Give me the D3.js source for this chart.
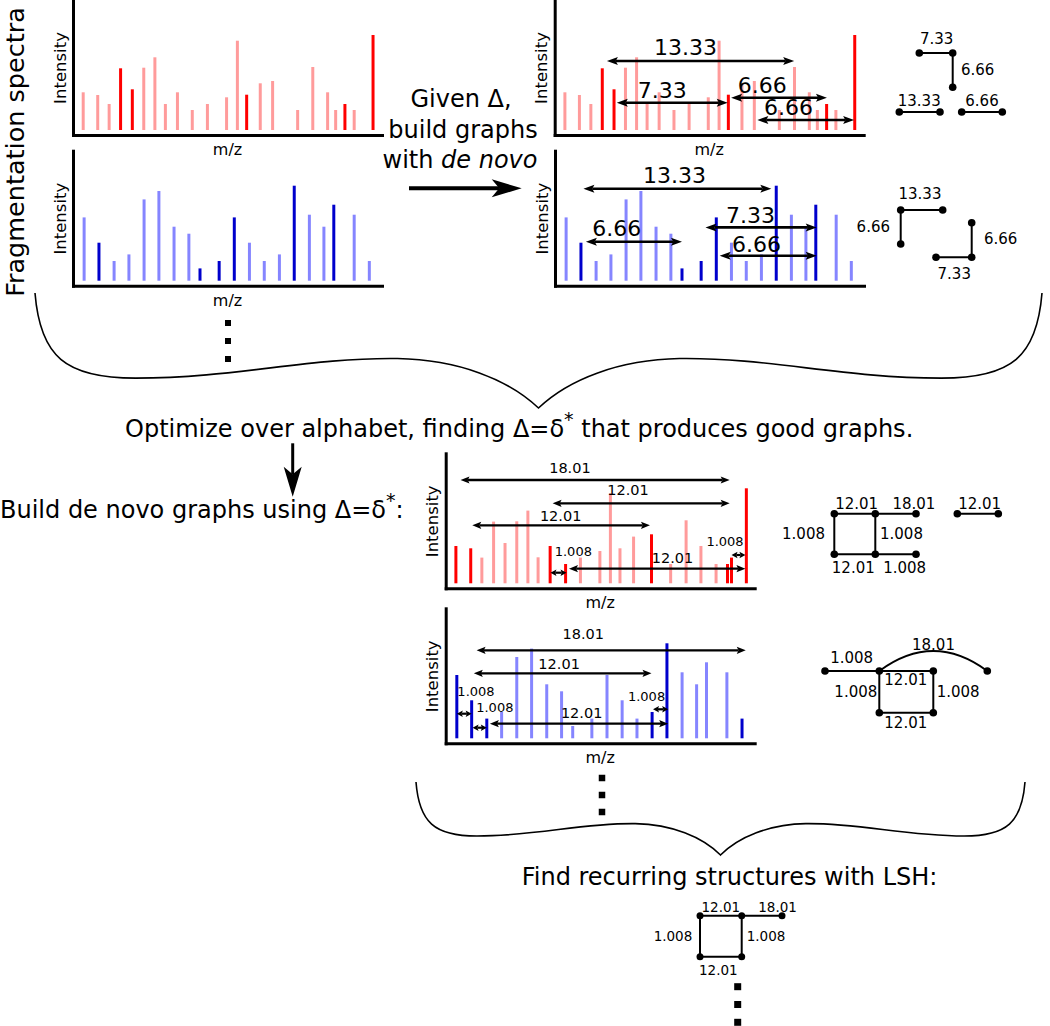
<!DOCTYPE html>
<html><head><meta charset="utf-8">
<script src="https://cdn.jsdelivr.net/npm/d3@7"></script>
<style>body{margin:0;background:#fff;} svg{display:block;font-family:"DejaVu Sans",sans-serif;}</style>
</head><body><svg id="c" width="1050" height="1026"></svg>
<script>
// ---------- DATA ----------
// spectrum 1 (red): m/z positions (0-100), intensities, highlighted peaks
const redMz   = [3.3, 8.0, 11.7, 15.4, 19.2, 22.9, 26.5, 29.9, 33.8, 38.6, 43.5, 49.7, 53.2, 56.2, 60.6, 64.6, 72.7, 77.6, 82.4, 85.0, 88.0, 91.0, 97.1];
const redInt  = [37.7, 35, 26, 61.7, 40.7, 62.3, 72.7, 26, 37.7, 20, 26, 32.7, 89.3, 35.3, 46.7, 49, 20, 63, 37.7, 20, 26, 20, 95];
const redKey  = [0,0,0,1,1,0,0,0,0,0,0,0,0,1,0,0,0,0,0,0,1,0,1];
// spectrum 2 (blue)
const blueMz  = [3.6, 8.4, 13.3, 18.1, 23.0, 27.8, 32.7, 37.5, 41.1, 47.3, 52.2, 57.1, 61.9, 66.8, 71.6, 76.5, 81.2, 84.4, 91.0, 95.9];
const blueInt = [63.3, 38, 19.7, 26.3, 81.3, 89.7, 54, 47, 12.3, 19.7, 63.3, 38, 19.7, 26.3, 95, 66, 54, 76, 66, 19.7];
const blueKey = [0,1,0,0,0,0,0,0,1,1,1,0,0,0,1,0,0,1,0,0];
// optimized red spectrum
const red2Mz  = [3.3, 8.1, 11.7, 15.5, 19.2, 23.0, 26.6, 29.9, 33.8, 38.8, 43.6, 49.9, 53.3, 56.4, 60.8, 66.6, 72.8, 77.8, 82.6, 87.5, 91.2, 92.5, 97.3];
const red2Int = [37.3, 35, 25.7, 61.7, 40.3, 62, 72.7, 26, 37.3, 19.3, 25.7, 32.3, 90, 35, 46.7, 49, 19.3, 63, 37.3, 19.3, 19.3, 25.7, 95];
const red2Key = [1,1,0,0,0,0,0,0,1,1,0,0,0,0,0,1,0,0,0,0,1,1,1];
// optimized blue spectrum (same peaks, other highlights)
const blue2Key = [1,1,1,0,0,0,0,0,0,0,0,0,0,1,1,0,0,0,0,1];

// mass-difference arrows: [label, from m/z, to m/z, level]
const annRedArrows  = [["13.33",16.9,77.5,69],["7.33",20.1,56.0,27.3],["6.66",57.1,88.1,32.3],["6.66",65.6,96.9,10]];
const annBlueArrows = [["13.33",9.2,70.0,92],["6.66",10.0,41.1,39],["7.33",48.7,84.7,53.3],["6.66",53.3,84.7,25]];
const optRedArrows  = [["18.01",4.8,91.9,103.3],["12.01",34.6,91.9,80],["12.01",8.6,66.1,58],["1.008",33.9,39.1,10.6],["12.01",39.9,97.0,14.6],["1.008",92.5,97.0,28.3]];
const optBlueArrows = [["18.01",10.0,97.1,88],["12.01",9.1,66.6,65],["1.008",3.6,8.4,24.6],["1.008",8.7,13.3,10.6],["12.01",14.3,72.0,14.6],["1.008",67.1,72.0,29]];

// ---------- LAYOUT ----------
const annRedLab  = [[42.3,75],[34.8,32],[67.2,37.3],[75.7,15]];
const annBlueLab = [[38.7,97.7],[20.0,44.3],[63.3,57.7],[65.2,28.3]];
const optRedLab  = [[40.2,110.3],[59.0,88.3],[37.2,62.6],[41.3,27.3],[73.4,20],[90.4,37.3]];
const optBlueLab = [[44.5,99],[36.7,69],[9.8,42.3],[15.9,26.3],[44.0,20],[65.0,37.3]];

const COL = {red:["#ff9b9b","#ff0000"], blue:["#8585ff","#0000cc"]};
const svg = d3.select("#c");

const panels = [
  {x0:73,    y0:135,   mz:redMz,  it:redInt,  key:redKey,   hue:"red",  mzl:true},
  {x0:73,    y0:285.7, mz:blueMz, it:blueInt, key:blueKey,  hue:"blue", mzl:true},
  {x0:554.7, y0:135,   mz:redMz,  it:redInt,  key:redKey,   hue:"red",  mzl:true,  arrows:annRedArrows,  lab:annRedLab,  big:true},
  {x0:555,   y0:285.7, mz:blueMz, it:blueInt, key:blueKey,  hue:"blue", mzl:false, arrows:annBlueArrows, lab:annBlueLab, big:true},
  {x0:445.7, y0:588.3, mz:red2Mz, it:red2Int, key:red2Key,  hue:"red",  mzl:true,  arrows:optRedArrows,  lab:optRedLab},
  {x0:445.7, y0:743.3, mz:blueMz, it:blueInt, key:blue2Key, hue:"blue", mzl:true,  arrows:optBlueArrows, lab:optBlueLab},
];

function arrow(g, x1, y1, x2, y2, o) {
  const dx=x2-x1, dy=y2-y1, len=Math.hypot(dx,dy), ux=dx/len, uy=dy/len, L=o.L, W=o.W, nf=o.notch||0.8;
  const sx = o.both ? x1+ux*L*nf : x1, sy = o.both ? y1+uy*L*nf : y1;
  g.append("line").attr("x1",sx).attr("y1",sy).attr("x2",x2-ux*L*nf).attr("y2",y2-uy*L*nf)
    .attr("stroke","#000").attr("stroke-width",o.sw);
  const head=(tx,ty,vx,vy)=>{const nx=-vy, ny=vx;
    return `M${tx},${ty}L${tx-vx*L+nx*W},${ty-vy*L+ny*W}L${tx-vx*L*nf},${ty-vy*L*nf}L${tx-vx*L-nx*W},${ty-vy*L-ny*W}Z`;};
  g.append("path").attr("d",head(x2,y2,ux,uy)).attr("fill","#000");
  if(o.both) g.append("path").attr("d",head(x1,y1,-ux,-uy)).attr("fill","#000");
}

panels.forEach(p=>{
  const g = svg.append("g");
  const x = d3.scaleLinear().domain([0,100]).range([p.x0, p.x0+309]);
  const y = d3.scaleLinear().domain([-5,130]).range([p.y0, p.y0-135]);
  const peaks = p.mz.map((m,i)=>({m, v:p.it[i], k:p.key[i]}));
  g.selectAll("line.bar").data(peaks).join("line").attr("class","bar")
    .attr("x1",d=>x(d.m)).attr("x2",d=>x(d.m)).attr("y1",y(0)).attr("y2",d=>y(d.v))
    .attr("stroke",d=>COL[p.hue][d.k]).attr("stroke-width",3);
  const ax = g.append("g").attr("transform",`translate(0,${p.y0})`)
    .call(d3.axisBottom(x).tickValues([]).tickSizeOuter(0));
  const ay = g.append("g").attr("transform",`translate(${p.x0},0)`)
    .call(d3.axisLeft(y).tickValues([]).tickSizeOuter(0));
  [ax,ay].forEach(a=>a.select(".domain").attr("stroke","#000").attr("stroke-width",3).attr("stroke-linecap","square"));
  g.append("text").attr("transform",`translate(${p.x0-13},${p.y0-67}) rotate(-90)`)
    .attr("text-anchor","middle").attr("dominant-baseline","central").attr("font-size",16.5).text("Intensity");
  if(p.mzl) g.append("text").attr("x",p.x0+154.5).attr("y",p.y0+20).attr("text-anchor","middle")
    .attr("font-size",16).text("m/z");
  if(p.arrows){
    p.arrows.forEach((a,i)=>{
      const x1=x(a[1]), x2=x(a[2]), yy=y(a[3]);
      const small = (x2-x1)<25;
      const o = p.big ? {sw:2.6,L:11,W:4,both:true} : (small ? {sw:2.2,L:6,W:3.2,both:true} : {sw:2.3,L:9,W:3.6,both:true});
      arrow(g,x1,yy,x2,yy,o);
      const fs = p.big ? 22 : (a[0]==="1.008" ? 13 : 14.5);
      g.append("text").attr("x",x(p.lab[i][0])).attr("y",y(p.lab[i][1])).attr("text-anchor","middle")
        .attr("font-size",fs).text(a[0]);
    });
  }
});

// ---------- GRAPHS ----------
// nodes in px; edges: [from, to, label, dx, dy, anchor, curved]
const graphs = [
  {fs:15, r:3.8, nodes:[[919.3,53],[952.7,53],[952.7,87.3],[899.3,112],[940,112],[961.7,112],[1002.3,112]],
   edges:[[0,1,"7.33",0.7,-8.7,"middle"],[1,2,"6.66",8.3,4.5,"start"],[3,4,"13.33",-0.4,-6,"middle"],[5,6,"6.66",0,-6,"middle"]]},
  {fs:15, r:3.8, nodes:[[900.7,210],[942.7,210],[900.7,244],[971.7,222.7],[971.7,257.3],[936,257.3]],
   edges:[[0,1,"13.33",-1.7,-11,"middle"],[0,2,"6.66",-10.7,5,"end"],[3,4,"6.66",12.3,3.5,"start"],[5,4,"7.33",0.4,21.5,"middle"]]},
  {fs:15, r:3.8, nodes:[[834.3,513.7],[875.3,513.7],[916,513.7],[834.3,554.3],[875.3,554.3],[916,554.3],[957.3,513.7],[998.3,513.7]],
   edges:[[0,1,"12.01",1.9,-4.7,"middle"],[1,2,"18.01",18.3,-4.7,"middle"],[0,3,"1.008",-9.3,5.3,"end"],[1,4,"1.008",4.7,5.3,"start"],
          [3,4,"12.01",-1.5,19,"middle"],[4,5,"1.008",9,19,"middle"],[6,7,"12.01",1.9,-4.7,"middle"]]},
  {fs:15, r:3.8, nodes:[[825,671],[879.3,671],[933.3,671],[879.3,712.7],[933.3,712.7],[987.3,671]],
   edges:[[0,1,"1.008",-0.5,-7.7,"middle"],[1,2,"12.01",-0.5,14,"middle"],[1,3,"1.008",-2,5.5,"end"],[2,4,"1.008",3.4,5.5,"start"],
          [3,4,"12.01",-0.5,15.6,"middle"],[1,5,"18.01",0.2,-21,"middle",true]]},
  {fs:13.5, r:3.5, nodes:[[700,915.7],[741.7,915.7],[782,915.7],[700,956.7],[741.7,956.7]],
   edges:[[0,1,"12.01",0,-4,"middle"],[1,2,"18.01",15.7,-4,"middle"],[0,3,"1.008",-7.7,4.5,"end"],[1,4,"1.008",5,4.5,"start"],[3,4,"12.01",-2.5,18.3,"middle"]]},
];
graphs.forEach(G=>{
  const g = svg.append("g");
  const sx = d3.scaleLinear().domain([0,1]).range([0,1]);
  const sy = d3.scaleLinear().domain([0,1]).range([0,1]);
  G.edges.forEach(e=>{
    const a=G.nodes[e[0]], b=G.nodes[e[1]];
    if(e[6]){
      const mx=(a[0]+b[0])/2, my=(a[1]+b[1])/2;
      g.append("path").attr("d",`M${sx(a[0])},${sy(a[1])}Q${sx(mx)},${sy(my-40)} ${sx(b[0])},${sy(b[1])}`)
        .attr("fill","none").attr("stroke","#000").attr("stroke-width",2);
    } else {
      g.append("line").attr("x1",sx(a[0])).attr("y1",sy(a[1])).attr("x2",sx(b[0])).attr("y2",sy(b[1]))
        .attr("stroke","#000").attr("stroke-width",2);
    }
    g.append("text").attr("x",sx((a[0]+b[0])/2+e[3])).attr("y",sy((a[1]+b[1])/2+e[4]))
      .attr("text-anchor",e[5]).attr("font-size",G.fs).text(e[2]);
  });
  g.selectAll("circle").data(G.nodes).join("circle")
    .attr("cx",d=>sx(d[0])).attr("cy",d=>sy(d[1])).attr("r",G.r).attr("fill","#000");
});

// ---------- TEXT, BRACES, ARROWS ----------
svg.append("text").attr("transform","translate(24,152) rotate(-90)").attr("text-anchor","middle")
  .attr("font-size",25.5).text("Fragmentation spectra");

const tg = svg.append("text").attr("text-anchor","middle").attr("font-size",24);
tg.append("tspan").attr("x",461).attr("y",106.7).text("Given Δ,");
tg.append("tspan").attr("x",463).attr("y",138.3).text("build graphs");
const t3 = tg.append("tspan").attr("x",460).attr("y",168.3);
t3.append("tspan").text("with ");
t3.append("tspan").attr("font-style","italic").text("de novo");
arrow(svg,409,188.3,521.7,188.3,{sw:4,L:30,W:9,notch:0.75});

const opt = svg.append("text").attr("x",125).attr("y",436.7).attr("font-size",24);
opt.append("tspan").text("Optimize over alphabet, finding Δ=δ");
opt.append("tspan").attr("dy",-11).attr("font-size",19).text("*");
opt.append("tspan").attr("dy",11).text(" that produces good graphs.");

arrow(svg,292.7,443.3,292.7,496.7,{sw:3,L:30,W:9,notch:0.75});

const bld = svg.append("text").attr("x",0).attr("y",518.3).attr("font-size",24);
bld.append("tspan").text("Build de novo graphs using Δ=δ");
bld.append("tspan").attr("dy",-11).attr("font-size",19).text("*");
bld.append("tspan").attr("dy",11).text(":");

svg.append("text").attr("x",521.7).attr("y",885).attr("font-size",24).text("Find recurring structures with LSH:");

function brace(x1,x2,yT,yTip){
  const w=x2-x1, h=yTip-yT, m=(x1+x2)/2;
  const L=f=>x1+f*w, R=f=>x2-f*w, Y=f=>yT+f*h;
  return `M${x1},${yT}C${L(0.005)},${Y(0.55)} ${L(0.03)},${Y(0.74)} ${L(0.1)},${Y(0.74)}`+
    `C${L(0.2)},${Y(0.74)} ${L(0.27)},${Y(0.56)} ${L(0.36)},${Y(0.57)}`+
    `C${L(0.42)},${Y(0.58)} ${L(0.47)},${Y(0.75)} ${m},${yTip}`+
    `C${R(0.47)},${Y(0.75)} ${R(0.42)},${Y(0.58)} ${R(0.36)},${Y(0.57)}`+
    `C${R(0.27)},${Y(0.56)} ${R(0.2)},${Y(0.74)} ${R(0.1)},${Y(0.74)}`+
    `C${R(0.03)},${Y(0.74)} ${R(0.005)},${Y(0.55)} ${x2},${yT}`;
}
svg.append("path").attr("d",brace(35,1042,293,408)).attr("fill","none").attr("stroke","#000").attr("stroke-width",1.6);
svg.append("path").attr("d",brace(416,1025,782,855)).attr("fill","none").attr("stroke","#000").attr("stroke-width",1.6);

const dotSets = [{x:228,ys:[323,341,359],s:6},{x:602,ys:[778,795,812],s:6.5},{x:737.7,ys:[986.7,1004.5,1022.3],s:7}];
dotSets.forEach(d=>{
  svg.append("g").selectAll("rect").data(d.ys).join("rect")
    .attr("x",d.x-d.s/2).attr("y",v=>v-d.s/2).attr("width",d.s).attr("height",d.s).attr("fill","#000");
});
</script></body></html>
